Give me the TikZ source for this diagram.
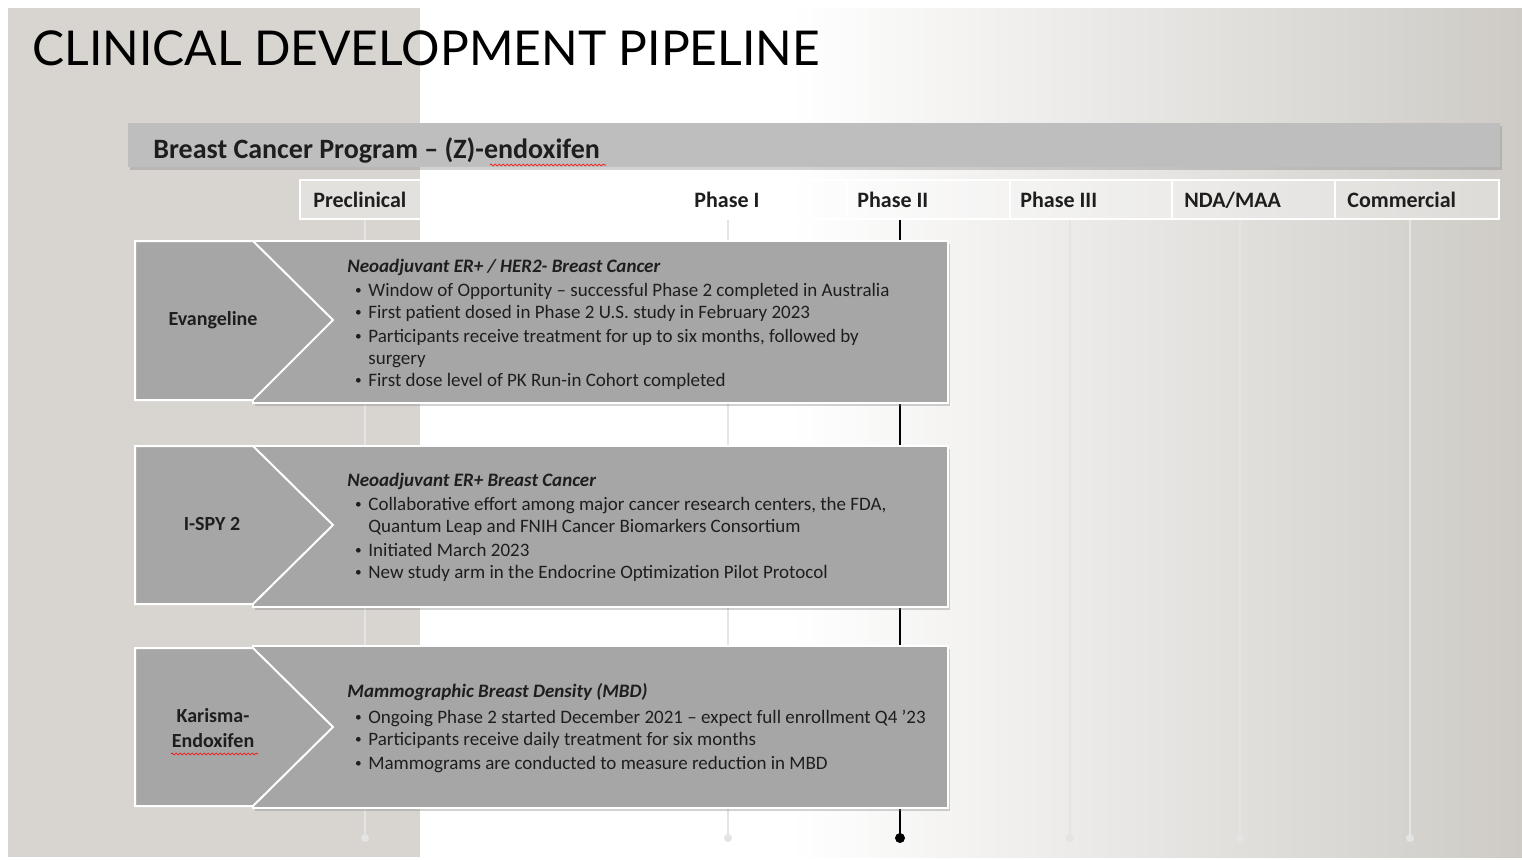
\documentclass[tikz,border=0pt]{standalone}
\usepackage{fontspec}
\setmainfont{Carlito}
\newfontfamily\titlefont{Lato}
\usetikzlibrary{shadows,decorations.pathmorphing}
\definecolor{bgleft}{RGB}{216,213,209}
\definecolor{bgright}{RGB}{206,203,198}
\definecolor{bannergray}{RGB}{190,190,190}
\definecolor{boxgray}{RGB}{166,166,166}
\definecolor{txtgray}{RGB}{30,30,30}
\definecolor{pipecol}{RGB}{228,228,228}
\newcommand{\bul}{\hspace*{3.8pt}\raisebox{0.6pt}{\scalebox{0.7}{\textbullet}}}
\tikzset{
  banner/.style={fill=bannergray, drop shadow={opacity=0.35, shadow xshift=1.2pt, shadow yshift=-1.5pt}},
  trialbox/.style={fill=boxgray, draw=white, line width=1pt, drop shadow={opacity=0.35, shadow xshift=1.2pt, shadow yshift=-1.5pt}},
  chevron/.style={fill=boxgray, draw=white, line width=1pt, line join=miter},
  phasecell/.style={draw=white, line width=1pt, fill=white, fill opacity=0.3},
  phaselabel/.style={anchor=base west, inner sep=0, text=txtgray, font=\fontsize{11}{13}\selectfont\bfseries},
  triallabel/.style={text=txtgray, align=center, font=\fontsize{10}{12.5}\selectfont\bfseries},
  trialtext/.style={anchor=base west, inner sep=0, text=txtgray, font=\fontsize{9.5}{11}\selectfont},
  pipeline/.style={draw=pipecol, line width=0.8pt},
  spell/.style={draw=red, line width=0.3pt, decorate, decoration={snake, amplitude=0.5pt, segment length=2pt}}
}
\begin{document}
\begin{tikzpicture}[x=0.5pt,y=-0.5pt]
\useasboundingbox (0,0) rectangle (1522,859);
\fill[white] (0,0) rectangle (1522,859);
\fill[bgleft] (8,8) rectangle (420,857);
\shade[left color=white, right color=bgright] (790,8) rectangle (1522,857);

\node[anchor=base west, inner sep=0, font=\titlefont\fontsize{24}{28}\selectfont] (title) at (32,65) {CLINICAL DEVELOPMENT PIPELINE};

\fill[banner] (128,123) rectangle (1500,167);
\node[anchor=base west, inner sep=0, text=txtgray, font=\fontsize{14}{16}\selectfont\bfseries] (program) at (153,158) {Breast Cancer Program – (Z)-endoxifen};
\draw[spell] (490,165) -- (606,165);

\foreach \a/\b in {300/684,684/847,847/1010,1010/1172,1172/1335,1335/1499}
  \draw[phasecell] (\a,180) rectangle (\b,219);
\node[phaselabel] (preclin) at (313,207) {Preclinical};
\node[phaselabel] (ph1) at (694,207) {Phase I};
\node[phaselabel] (ph2) at (857,207) {Phase II};
\node[phaselabel] (ph3) at (1020,207) {Phase III};
\node[phaselabel] (nda) at (1184,207) {NDA/MAA};
\node[phaselabel] (comm) at (1347,207) {Commercial};

\foreach \x in {365,728,1070,1240,1410} {
  \coordinate (top\x) at (\x,220);
  \coordinate (end\x) at (\x,838);
  \draw[pipeline] (top\x) -- (end\x);
  \fill[pipecol] (end\x) circle (2pt);
}
\coordinate (ph2top) at (900,220);
\coordinate (ph2end) at (900,838);
\draw[line width=1.2pt] (ph2top) -- (ph2end);
\fill (ph2end) circle (2.5pt);

\draw[trialbox] (253,241) rectangle (948,403);
\draw[chevron] (135,241) -- (253,241) -- (333,320) -- (253,400) -- (135,400) -- cycle;
\node[triallabel] (evangeline) at (213,320) {Evangeline};
\node[trialtext] (evangeline-text) at (347,272) {\begin{tabular}[t]{@{}p{10.5pt}@{}l@{}}
\multicolumn{2}{@{}l@{}}{\bfseries\itshape Neoadjuvant ER+ / HER2- Breast Cancer}\\[1pt]
\bul & Window of Opportunity – successful Phase 2 completed in Australia\\
\bul & First patient dosed in Phase 2 U.S. study in February 2023\\[1pt]
\bul & Participants receive treatment for up to six months, followed by\\
 & surgery\\
\bul & First dose level of PK Run-in Cohort completed
\end{tabular}};

\draw[trialbox] (253,446) rectangle (948,607);
\draw[chevron] (135,446) -- (253,446) -- (333,525) -- (253,604) -- (135,604) -- cycle;
\node[triallabel] (ispy) at (212,524) {I-SPY 2};
\node[trialtext] (ispy-text) at (347,486) {\begin{tabular}[t]{@{}p{10.5pt}@{}l@{}}
\multicolumn{2}{@{}l@{}}{\bfseries\itshape Neoadjuvant ER+ Breast Cancer}\\[1pt]
\bul & Collaborative effort among major cancer research centers, the FDA,\\
 & Quantum Leap and FNIH Cancer Biomarkers Consortium\\[1pt]
\bul & Initiated March 2023\\
\bul & New study arm in the Endocrine Optimization Pilot Protocol
\end{tabular}};

\draw[trialbox] (253,646) rectangle (948,808);
\draw[chevron] (135,648) -- (253,648) -- (333,727) -- (253,806) -- (135,806) -- cycle;
\node[triallabel] (karisma) at (213,728) {Karisma-\\Endoxifen};
\draw[spell] (171,754) -- (258,754);
\node[trialtext] (karisma-text) at (347,697) {\begin{tabular}[t]{@{}p{10.5pt}@{}l@{}}
\multicolumn{2}{@{}l@{}}{\bfseries\itshape Mammographic Breast Density (MBD)}\\[2pt]
\bul & Ongoing Phase 2 started December 2021 – expect full enrollment Q4 ’23\\
\bul & Participants receive daily treatment for six months\\[1pt]
\bul & Mammograms are conducted to measure reduction in MBD
\end{tabular}};
\end{tikzpicture}
\end{document}
